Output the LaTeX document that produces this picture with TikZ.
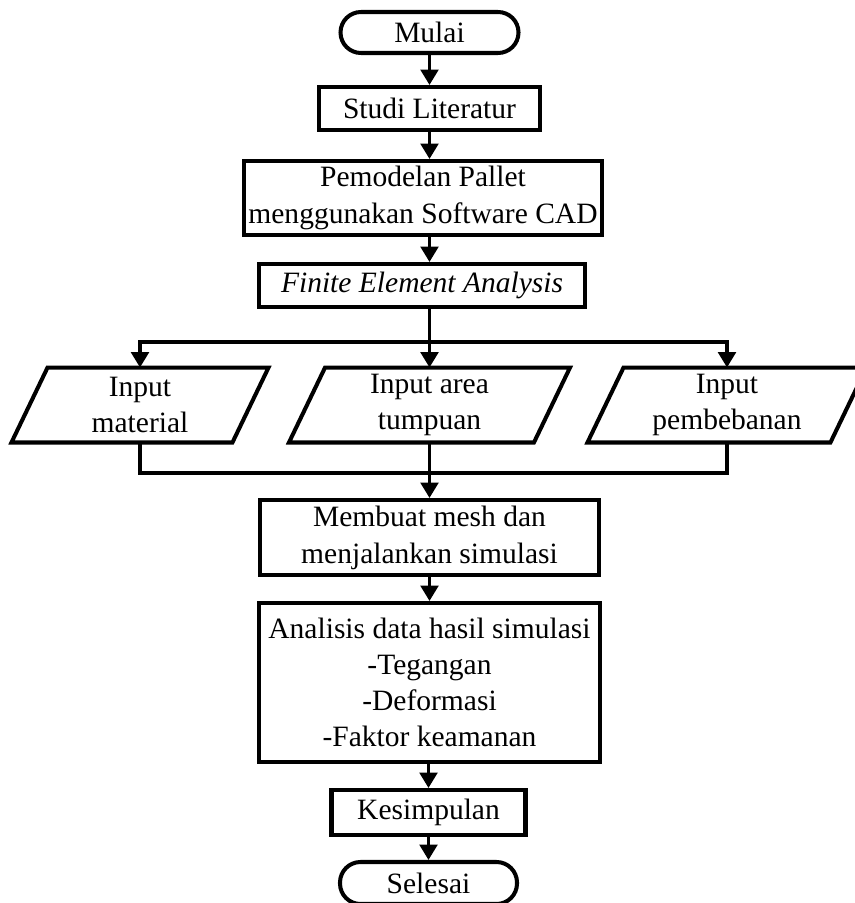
\documentclass[tikz,border=0pt]{standalone}
\usepackage{fontspec}
\setmainfont{Liberation Serif}
\usetikzlibrary{arrows.meta}
\tikzset{
  box/.style={draw, line width=1.65pt, inner sep=0pt, align=center,
    font=\fontsize{12.1}{15.1}\selectfont},
  term/.style={box, rounded corners=8.4pt},
  io/.style={inner sep=0pt, align=center, minimum height=74*0.41pt,
    font=\fontsize{12.1}{15.1}\selectfont},
  slant/.style={draw, line width=1.65pt},
  line/.style={line width=1.4pt},
  arr/.style={line, -{Triangle[length=6.3pt,width=7.2pt]}}
}
\begin{document}
\begin{tikzpicture}[x=0.41pt,y=-0.41pt]
\clip (0,0) rectangle (855,903);
\fill[white] (0,0) rectangle (855,903);

\node[term, minimum width=178*0.41pt, minimum height=41*0.41pt] (mulai) at (429.5,32.5) {Mulai};
\node[box, minimum width=221*0.41pt, minimum height=43*0.41pt] (studi) at (429.5,108.5) {Studi Literatur};
\node[box, minimum width=358*0.41pt, minimum height=74*0.41pt] (pem) at (423,198) {Pemodelan Pallet\\menggunakan Software CAD};
\node[box, minimum width=326*0.41pt, minimum height=43*0.41pt, font=\fontsize{12.1}{15.1}\selectfont\itshape] (fea) at (422,285.5) {Finite Element Analysis};

\node[io, minimum width=220*0.41pt] (p1) at (140,405) {Input\\material};
\node[io, minimum width=244*0.41pt] (p2) at (429.5,405) {Input area\\tumpuan};
\node[io, minimum width=242*0.41pt] (p3) at (727,405) {Input\\pembebanan};
\foreach \n in {p1,p2,p3}
  \draw[slant] ([xshift=7.4pt]\n.north west) -- ([xshift=7.4pt]\n.north east)
    -- ([xshift=-7.4pt]\n.south east) -- ([xshift=-7.4pt]\n.south west) -- cycle;

\node[box, minimum width=339*0.41pt, minimum height=75*0.41pt] (mesh) at (429.5,537.5) {Membuat mesh dan\\menjalankan simulasi};
\node[box, minimum width=341*0.41pt, minimum height=159*0.41pt, font=\fontsize{12.1}{14.7}\selectfont] (anal) at (429.5,682.5) {Analisis data hasil simulasi\\-Tegangan\\-Deformasi\\-Faktor keamanan};
\node[box, minimum width=194*0.41pt, minimum height=45*0.41pt] (kes) at (428.5,812.5) {Kesimpulan};
\node[term, minimum width=177*0.41pt, minimum height=42*0.41pt] (sel) at (428.5,883) {Selesai};

\coordinate (br) at (429.5,342);
\coordinate (mg) at (429.5,473);

\draw[arr] (mulai) -- (studi);
\draw[arr] (studi.south) -- (studi.south |- pem.north);
\draw[arr] (pem.south -| studi) -- (fea.north -| studi);
\draw[line] (fea.south -| studi) -- (br);
\draw[arr] (br) -- (p2.north);
\draw[arr] (br) -| (p1.north);
\draw[arr] (br) -| (p3.north);
\draw[line] (p1.south) |- (mg);
\draw[line] (p3.south) |- (mg);
\draw[line] (p2.south) -- (mg);
\draw[arr] (mg) -- (mesh.north);
\draw[arr] (mesh) -- (anal);
\draw[arr] (anal.south -| kes) -- (kes.north);
\draw[arr] (kes) -- (sel);
\end{tikzpicture}
\end{document}
